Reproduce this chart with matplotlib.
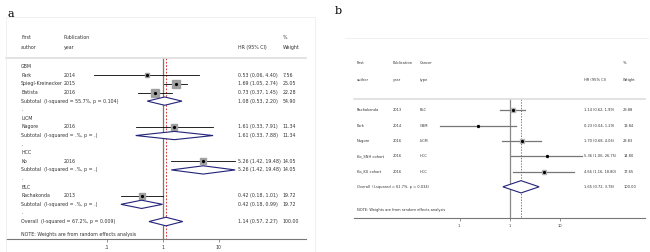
import matplotlib
matplotlib.use("Agg")
import matplotlib.pyplot as plt
import numpy as np
from matplotlib.patches import Polygon, Rectangle
from matplotlib.lines import Line2D

# ── Panel a data (grouped by cancer type) ─────────────────────────────────────
a_groups = ["GBM", "LiCM", "HCC", "BLC"]
a_authors = ["Park", "Spiegl-Kreinecker", "Batista", "Nagore", "Ko", "Rachakonda"]
a_years = ["2014", "2015", "2016", "2016", "2016", "2013"]
a_group_of = [0, 0, 0, 1, 2, 3]
a_hr = [0.53, 1.69, 0.73, 1.61, 5.26, 0.42]
a_lo = [0.06, 1.05, 0.37, 0.33, 1.42, 0.18]
a_hi = [4.40, 2.74, 1.45, 7.91, 19.48, 1.01]
a_wt = [7.56, 25.05, 22.28, 11.34, 14.05, 19.72]
a_sub_het = ["(I-squared = 55.7%, p = 0.104)", "(I-squared = .%, p = .)",
             "(I-squared = .%, p = .)", "(I-squared = .%, p = .)"]
a_sub_hr = [1.08, 1.61, 5.26, 0.42]
a_sub_lo = [0.53, 0.33, 1.42, 0.18]
a_sub_hi = [2.20, 7.88, 19.48, 0.99]
a_sub_wt = [54.90, 11.34, 14.05, 19.72]
a_overall = [1.14, 0.57, 2.27]
a_overall_het = "(I-squared = 67.2%, p = 0.009)"

# ── Panel b data ─────────────────────────────────────────────────────────────
b_authors = ["Rachakonda", "Park", "Nagore", "Ko_SNH cohort", "Ko_KU cohort"]
b_years = ["2013", "2014", "2016", "2016", "2016"]
b_types = ["BLC", "GBM", "LiCM", "HCC", "HCC"]
b_hr = [1.14, 0.23, 1.70, 5.36, 4.66]
b_lo = [0.62, 0.04, 0.68, 1.06, 1.16]
b_hi = [1.99, 1.29, 4.06, 26.75, 18.80]
b_wt = [29.88, 13.84, 23.83, 14.80, 17.65]
b_overall = [1.65, 0.72, 3.78]
b_overall_het = "(I-squared = 61.7%, p = 0.034)"

ticks = [0.1, 1, 10]
tick_labels = [".1", "1", "10"]

W, H = 650, 252
fig = plt.figure(figsize=(W / 100, H / 100), dpi=100)
fig.patch.set_facecolor("white")

NAVY = "#23237a"
RED = "#d01010"
TXT = "#333333"


def px_axes(l, r, t, b):
    return fig.add_axes([l / W, 1 - b / H, (r - l) / W, (b - t) / H])


def ci_text(h, lo, hi):
    return f"{h:.2f} ({lo:.2f}, {hi:.2f})"


def diamond(ax, h, lo, hi, y, half):
    ax.add_patch(Polygon([(lo, y), (h, y - half), (hi, y), (h, y + half)],
                         closed=True, facecolor="white", edgecolor=NAVY,
                         lw=0.8, zorder=3))


def style_axis(ax, fs, xlim, ylim):
    ax.set_xscale("log")
    ax.set_xlim(*xlim)
    ax.set_ylim(*ylim)
    ax.set_xticks(ticks)
    ax.set_xticklabels(tick_labels, fontsize=fs, color=TXT)
    ax.minorticks_off()
    ax.tick_params(axis="x", length=2, width=0.5, pad=2, color="#666666")
    ax.set_yticks([])
    for s in ["left", "top", "right"]:
        ax.spines[s].set_visible(False)
    ax.spines["bottom"].set_color("#777777")
    ax.spines["bottom"].set_linewidth(0.8)


# ── Panel a ─────────────────────────────────────────────────────────────────
fig.add_artist(Rectangle((6 / W, 0), (315 - 6) / W, 1 - 17 / H,
                         transform=fig.transFigure, fill=False,
                         edgecolor="#eeeeee", lw=0.6))
ax = px_axes(6, 306, 17, 239)
fs = 3.4
style_axis(ax, fs, (10 ** -2.79, 10 ** 2.55), (20.03, -5.78))
tr = ax.get_yaxis_transform()
cx = dict(author=0.05, year=0.193, hr=0.772, wt=0.922)

def put(x, y, s, **kw):
    ax.text(x, y, s, transform=tr, fontsize=fs, va="center", ha="left",
            color=TXT, **kw)

put(cx["author"], -3.35, "First")
put(cx["author"], -2.2, "author")
put(cx["year"], -3.35, "Publication")
put(cx["year"], -2.2, "year")
put(cx["hr"], -2.2, "HR (95% CI)")
put(cx["wt"], -3.35, "%")
put(cx["wt"], -2.2, "Weight")
ax.plot([0, 1], [-1.05, -1.05], transform=tr, color="#dddddd", lw=1.2,
        clip_on=False)

r = 0
for g, gname in enumerate(a_groups):
    if g > 0:
        put(cx["author"], r, ".")
        r += 1
    put(cx["author"], r, gname)
    r += 1
    for i in [k for k, gg in enumerate(a_group_of) if gg == g]:
        ax.plot([a_lo[i], a_hi[i]], [r, r], color="black", lw=0.6, zorder=2)
        ms = 1.1 * np.sqrt(a_wt[i])
        ax.plot(a_hr[i], r, marker="s", ms=ms, mfc="#a0a0a0", mec="#a0a0a0",
                zorder=2)
        ax.plot(a_hr[i], r, marker="o", ms=1.3, color="black", zorder=3)
        put(cx["author"], r, a_authors[i])
        put(cx["year"], r, a_years[i])
        put(cx["hr"], r, ci_text(a_hr[i], a_lo[i], a_hi[i]))
        put(cx["wt"], r, f"{a_wt[i]:.2f}")
        r += 1
    diamond(ax, a_sub_hr[g], a_sub_lo[g], a_sub_hi[g], r, 0.48)
    put(cx["author"], r, "Subtotal  " + a_sub_het[g])
    put(cx["hr"], r, ci_text(a_sub_hr[g], a_sub_lo[g], a_sub_hi[g]))
    put(cx["wt"], r, f"{a_sub_wt[g]:.2f}")
    r += 1
put(cx["author"], r, ".")
r += 1
diamond(ax, *a_overall, r, 0.5)
put(cx["author"], r, "Overall  " + a_overall_het)
put(cx["hr"], r, ci_text(*a_overall))
put(cx["wt"], r, "100.00")
put(cx["author"], r + 1.55, "NOTE: Weights are from random effects analysis")

ax.plot([1, 1], [-1.05, 20.03], color="#777777", lw=0.9, zorder=1)
ax.plot([a_overall[0]] * 2, [-1.05, 20.03], color=RED, lw=0.6,
        ls=(0, (2, 2)), zorder=1)

fig.text(7 / W, 1 - 14 / H, "a", fontsize=8, family="serif", va="center")

# ── Panel b ─────────────────────────────────────────────────────────────────
fig.add_artist(Line2D([345 / W, 648 / W], [1 - 38 / H] * 2,
                      transform=fig.transFigure, color="#eeeeee", lw=0.6))
bx = px_axes(354, 645, 38, 218.3)
fsb = 2.6
style_axis(bx, fsb, (10 ** -3.10, 10 ** 2.68), (7.06, -4.73))
trb = bx.get_yaxis_transform()
bc = dict(author=0.009, year=0.132, type=0.227, hr=0.79, wt=0.925)

def putb(x, y, s):
    bx.text(x, y, s, transform=trb, fontsize=fsb, va="center", ha="left",
            color=TXT)

putb(bc["author"], -3.07, "First")
putb(bc["author"], -1.98, "author")
putb(bc["year"], -3.07, "Publication")
putb(bc["year"], -1.98, "year")
putb(bc["type"], -3.07, "Cancer")
putb(bc["type"], -1.98, "type")
putb(bc["hr"], -1.98, "HR (95% CI)")
putb(bc["wt"], -3.07, "%")
putb(bc["wt"], -1.98, "Weight")
bx.plot([0, 1], [-0.74, -0.74], transform=trb, color="#dddddd", lw=1.2,
        clip_on=False)

for i in range(len(b_authors)):
    bx.plot([b_lo[i], b_hi[i]], [i, i], color="#777777", lw=0.9, zorder=2)
    bx.plot(b_hr[i], i, marker="s", ms=0.55 * np.sqrt(b_wt[i]),
            mfc="#b5b5b5", mec="#b5b5b5", zorder=2)
    bx.plot(b_hr[i], i, marker="o", ms=1.3, color="black", zorder=3)
    putb(bc["author"], i, b_authors[i])
    putb(bc["year"], i, b_years[i])
    putb(bc["type"], i, b_types[i])
    putb(bc["hr"], i, ci_text(b_hr[i], b_lo[i], b_hi[i]))
    putb(bc["wt"], i, f"{b_wt[i]:.2f}")
n = len(b_authors)
diamond(bx, *b_overall, n, 0.4)
putb(bc["author"], n, "Overall  " + b_overall_het)
putb(bc["hr"], n, ci_text(*b_overall))
putb(bc["wt"], n, "100.00")
putb(bc["author"], n + 1.5, "NOTE: Weights are from random effects analysis")

bx.plot([1, 1], [-0.74, 7.06], color="#888888", lw=0.9, zorder=1)
bx.plot([b_overall[0]] * 2, [-0.74, 7.06], color=RED, lw=0.5,
        ls=(0, (2, 2)), zorder=1)

fig.text(335 / W, 1 - 11 / H, "b", fontsize=8, family="serif", va="center")

fig.savefig("out.png", dpi=100, facecolor="white")
